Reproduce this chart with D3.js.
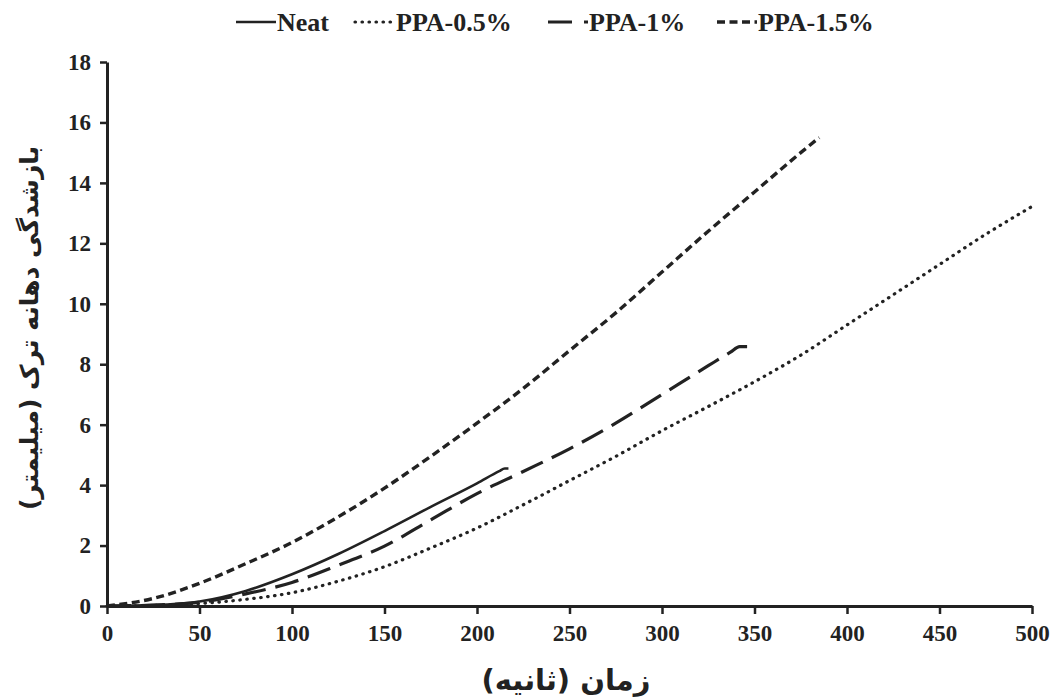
<!DOCTYPE html>
<html><head><meta charset="utf-8">
<script src="https://cdn.jsdelivr.net/npm/d3@7"></script>
<style>
html,body{margin:0;padding:0;background:#fff;}
svg{display:block;}
.serif{font-family:"Liberation Serif","Tinos","Times New Roman","DejaVu Serif",serif;font-weight:bold;}
</style></head>
<body>
<svg id="chart" width="1052" height="700"></svg>
<script>
// ---- data (time in seconds, crack mouth opening in mm) ----
const seriesNames = ["Neat", "PPA-0.5%", "PPA-1%", "PPA-1.5%"];
const neatT = [0, 25, 50, 75, 100, 125, 150, 175, 200, 212, 215, 217];
const neatV = [0, 0.03, 0.15, 0.5, 1.05, 1.72, 2.48, 3.28, 4.06, 4.46, 4.55, 4.55];
const ppa05T = [0, 25, 50, 75, 100, 125, 150, 175, 200, 225, 250, 275, 300, 325, 350, 375, 400, 425, 450, 475, 500];
const ppa05V = [0, 0.02, 0.08, 0.22, 0.44, 0.82, 1.3, 1.92, 2.58, 3.35, 4.15, 4.95, 5.8, 6.6, 7.42, 8.3, 9.3, 10.3, 11.3, 12.3, 13.22];
const ppa1T = [0, 25, 50, 75, 100, 125, 150, 175, 200, 225, 250, 275, 300, 325, 337, 342, 346];
const ppa1V = [0, 0.03, 0.12, 0.4, 0.78, 1.35, 1.98, 2.85, 3.72, 4.45, 5.2, 6.05, 7.0, 7.95, 8.4, 8.58, 8.58];
const ppa15T = [0, 25, 50, 75, 100, 125, 150, 175, 200, 225, 250, 275, 300, 325, 350, 375, 385];
const ppa15V = [0, 0.25, 0.75, 1.4, 2.1, 2.95, 3.9, 4.95, 6.05, 7.2, 8.45, 9.7, 11.05, 12.4, 13.7, 15.0, 15.5];
const xTicks = [0, 50, 100, 150, 200, 250, 300, 350, 400, 450, 500];
const yTicks = [0, 2, 4, 6, 8, 10, 12, 14, 16, 18];
const xTitle = "زمان (ثانیه)";
const yTitle = "بازشدگی دهانه ترک (میلیمتر)";

const seriesT = [neatT, ppa05T, ppa1T, ppa15T];
const seriesV = [neatV, ppa05V, ppa1V, ppa15V];
const dashes = [null, "0.5,6.5", "24,10", "8,4.5"];
const widths = [2.6, 3.2, 3.2, 3.4];
const caps = ["butt", "round", "butt", "butt"];

const svg = d3.select("#chart");
const mLeft = 107, mRight = 1032, mTop = 62, mBottom = 606;
const x = d3.scaleLinear().domain([0, 500]).range([mLeft, mRight]);
const y = d3.scaleLinear().domain([0, 18]).range([mBottom, mTop]);
const ink = "#222";

// lines
const line = d3.line().x(d => x(d[0])).y(d => y(d[1])).curve(d3.curveMonotoneX);
seriesNames.forEach((n, i) => {
  const pts = seriesT[i].map((t, j) => [t, seriesV[i][j]]);
  svg.append("path").datum(pts)
    .attr("d", line)
    .attr("fill", "none")
    .attr("stroke", ink)
    .attr("stroke-width", widths[i])
    .attr("stroke-linecap", caps[i])
    .attr("stroke-dasharray", dashes[i]);
});

// axes
const xAxis = d3.axisBottom(x).tickValues(xTicks).tickSize(8).tickSizeOuter(0).tickPadding(11).tickFormat(d3.format("d"));
const yAxis = d3.axisLeft(y).tickValues(yTicks).tickSize(7).tickSizeOuter(0).tickPadding(9).tickFormat(d3.format("d"));
const gx = svg.append("g").attr("transform", `translate(0,${mBottom})`).call(xAxis);
const gy = svg.append("g").attr("transform", `translate(${mLeft},0)`).call(yAxis);
[gx, gy].forEach(g => {
  g.attr("font-family", null).attr("font-size", null);
  g.select(".domain").attr("stroke", ink).attr("stroke-width", 3);
  g.selectAll(".tick line").attr("stroke", ink).attr("stroke-width", 2.5);
  g.selectAll(".tick text").attr("fill", "#222").attr("class", "serif")
    .style("font-size", "23px");
});

// axis titles
svg.append("text").attr("x", 566).attr("y", 690).attr("text-anchor", "middle")
  .style("font-family", "'DejaVu Sans', sans-serif").style("font-weight", "bold")
  .style("font-size", "29px").attr("fill", "#222").text(xTitle);
svg.append("text").attr("transform", "translate(38,328) rotate(-90)").attr("text-anchor", "middle")
  .style("font-family", "'DejaVu Sans', sans-serif").style("font-weight", "bold")
  .style("font-size", "25px").attr("fill", "#222").text(yTitle);

// legend
const legX = [236, 355, 548, 717];
const lg = svg.append("g");
seriesNames.forEach((n, i) => {
  lg.append("line").attr("x1", legX[i]).attr("x2", legX[i] + 40).attr("y1", 22).attr("y2", 22)
    .attr("stroke", ink).attr("stroke-width", widths[i])
    .attr("stroke-linecap", caps[i])
    .attr("stroke-dasharray", i === 2 ? "24,12" : dashes[i]);
  lg.append("text").attr("x", legX[i] + 41).attr("y", 31).attr("class", "serif")
    .style("font-size", "26px").attr("fill", "#222").text(n);
});
</script>
</body></html>
